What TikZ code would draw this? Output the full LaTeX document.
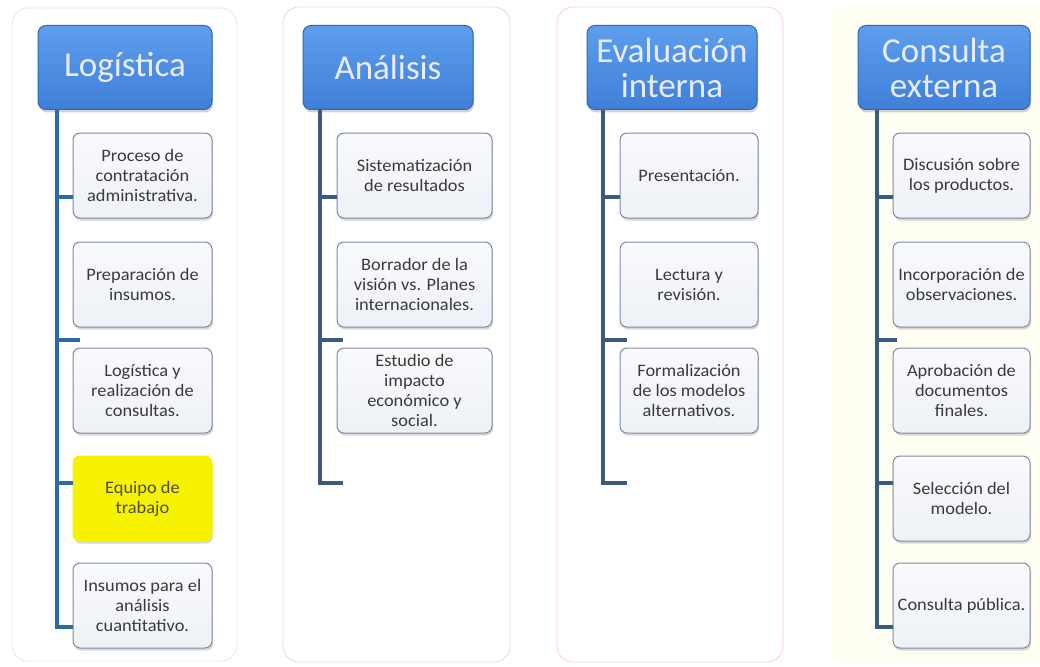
\documentclass[tikz,border=0pt]{standalone}
\usepackage{fontspec}
\setmainfont{Carlito}
\newfontfamily\boxfont{Carlito}[FakeStretch=1.05]
\usetikzlibrary{shadows}
\definecolor{hdrtop}{HTML}{5E9EEC}
\definecolor{hdrbot}{HTML}{3F7FD8}
\definecolor{hdrline}{HTML}{3466B0}
\definecolor{boxline}{HTML}{7D8CA6}
\definecolor{boxtop}{HTML}{F9FAFC}
\definecolor{boxbot}{HTML}{EEF1F6}
\definecolor{txt}{HTML}{3A3A3A}
\definecolor{spineA}{HTML}{2C6AA6}
\definecolor{spineB}{HTML}{3B5A80}
\definecolor{yel}{HTML}{F6F200}
\definecolor{p1line}{HTML}{ECE9E0}
\tikzset{
  panel/.style={draw=#1, line width=0.9pt, rounded corners=16pt, fill=white},
  hdr/.style={draw=hdrline, line width=1pt, rounded corners=8pt,
    top color=hdrtop, bottom color=hdrbot, text=white!92!blue,
    align=center, font=\fontsize{35}{35}\selectfont,
    minimum height=84pt, inner sep=0pt,
    drop shadow={shadow xshift=1pt, shadow yshift=-3pt, opacity=0.35}},
  itembox/.style={draw=boxline, line width=1pt, rounded corners=7pt,
    top color=boxtop, bottom color=boxbot, text=txt,
    align=center, font=\boxfont\fontsize{17.5}{20}\selectfont,
    minimum height=85pt, inner sep=0pt,
    drop shadow={shadow xshift=1pt, shadow yshift=-2.5pt, opacity=0.3}},
  yelbox/.style={itembox, draw=yel, top color=yel, bottom color=yel, text=black!80!yellow},
  spine/.style={draw=#1, line width=3.5pt},
}
\begin{document}
\begin{tikzpicture}[x=1pt,y=-1pt]
\useasboundingbox (0,0) rectangle (1040,666);
\clip (0,0) rectangle (1040,666);
% panels
\path[panel=p1line] (12,8) rectangle (237,661);
\path[panel=black!12] (283,7) rectangle (510,662);
\path[panel=red!18!white] (557,7) rectangle (783,662);
\path[panel=yellow!8, fill=yellow!5] (832,7) rectangle (1060,662);

% ---------- column 1
\node[hdr, minimum width=174pt] (h1) at (125,67.5) {Logística};
\node[itembox, minimum width=139pt] (a1) at (142.5,175.5) {Proceso de\\contratación\\administrativa.};
\node[itembox, minimum width=139pt] (a2) at (142.5,284.5) {Preparación de\\insumos.};
\node[itembox, minimum width=139pt] (a3) at (142.5,390.5) {Logística y\\realización de\\consultas.};
\node[yelbox, minimum width=139pt] (a4) at (142.5,498.5) {Equipo de\\trabajo};
\node[itembox, minimum width=139pt] (a5) at (142.5,605.5) {Insumos para el\\análisis\\cuantitativo.};
\coordinate (s1) at (57,110);
\coordinate (s1e) at (57,627);
\coordinate (k12) at (80,340);
\draw[spine=spineA] (s1) -- (s1e);
\draw[spine=spineA] (s1 |- 0,197) -- (a1.west |- 0,197);
\draw[spine=spineA] (s1 |- k12) -- (k12);
\draw[spine=spineA] (s1 |- 0,483) -- (a4.west |- 0,483);
\draw[spine=spineA] ([xshift=-1.75pt]s1e) -- (a5.west |- s1e);

% ---------- column 2
\node[hdr, minimum width=170pt] (h2) at (388,67.5) {Análisis};
\node[itembox, minimum width=155pt] (b1) at (414.5,175.5) {Sistematización\\de resultados};
\node[itembox, minimum width=155pt] (b2) at (414.5,284.5) {Borrador de la\\visión vs. Planes\\internacionales.};
\node[itembox, minimum width=155pt] (b3) at (414.5,390.5) {Estudio de\\impacto\\económico y\\social.};
\coordinate (s2) at (320,110);
\coordinate (s2e) at (320,483);
\coordinate (k22) at (343,340);
\coordinate (k23) at (343,483);
\draw[spine=spineB] (s2) -- (s2e);
\draw[spine=spineB] (s2 |- 0,197) -- (b1.west |- 0,197);
\draw[spine=spineB] (s2 |- k22) -- (k22);
\draw[spine=spineB] ([xshift=-1.75pt]s2e) -- (k23);

% ---------- column 3
\node[hdr, minimum width=170pt] (h3) at (672,67.5) {Evaluación\\interna};
\node[itembox, minimum width=138pt] (c1) at (689,175.5) {Presentación.};
\node[itembox, minimum width=138pt] (c2) at (689,284.5) {Lectura y\\revisión.};
\node[itembox, minimum width=138pt] (c3) at (689,390.5) {Formalización\\de los modelos\\alternativos.};
\coordinate (s3) at (603,110);
\coordinate (s3e) at (603,483);
\coordinate (k32) at (627,340);
\coordinate (k33) at (627,483);
\draw[spine=spineB] (s3) -- (s3e);
\draw[spine=spineB] (s3 |- 0,197) -- (c1.west |- 0,197);
\draw[spine=spineB] (s3 |- k32) -- (k32);
\draw[spine=spineB] ([xshift=-1.75pt]s3e) -- (k33);

% ---------- column 4
\node[hdr, minimum width=172pt] (h4) at (944,67.5) {Consulta\\externa};
\node[itembox, minimum width=137pt] (d1) at (961.5,175.5) {Discusión sobre\\los productos.};
\node[itembox, minimum width=137pt] (d2) at (961.5,284.5) {Incorporación de\\observaciones.};
\node[itembox, minimum width=137pt] (d3) at (961.5,390.5) {Aprobación de\\documentos\\finales.};
\node[itembox, minimum width=137pt] (d4) at (961.5,498.5) {Selección del\\modelo.};
\node[itembox, minimum width=137pt] (d5) at (961.5,605.5) {Consulta pública.};
\coordinate (s4) at (877,110);
\coordinate (s4e) at (877,627);
\coordinate (k42) at (897,340);
\draw[spine=spineB] (s4) -- (s4e);
\draw[spine=spineB] (s4 |- 0,197) -- (d1.west |- 0,197);
\draw[spine=spineB] (s4 |- k42) -- (k42);
\draw[spine=spineB] (s4 |- 0,483) -- (d4.west |- 0,483);
\draw[spine=spineB] ([xshift=-1.75pt]s4e) -- (d5.west |- s4e);
\end{tikzpicture}
\end{document}
